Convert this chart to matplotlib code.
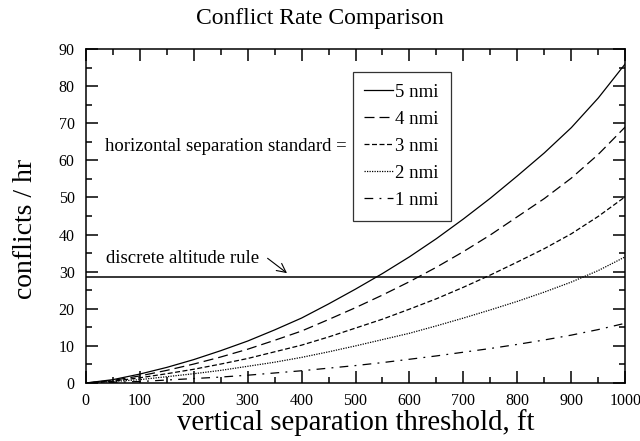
import matplotlib
matplotlib.use("Agg")
import matplotlib.pyplot as plt
from matplotlib.ticker import MultipleLocator

plt.rcParams['font.family'] = ['Liberation Serif', 'DejaVu Serif']

x_ft = [0, 50, 100, 150, 200, 250, 300, 350, 400, 450, 500,
        550, 600, 650, 700, 750, 800, 850, 900, 950, 1000]
nmi5 = [0, 0.9, 2.4, 4.2, 6.3, 8.7, 11.3, 14.3, 17.5, 21.3, 25.3,
        29.5, 34.0, 38.9, 44.2, 49.8, 55.8, 62.0, 68.8, 76.8, 86.0]
nmi4 = [0, 0.7, 1.9, 3.4, 5.1, 7.0, 9.1, 11.5, 14.0, 17.1, 20.3,
        23.7, 27.3, 31.2, 35.4, 39.9, 44.8, 49.7, 55.2, 61.6, 69.0]
nmi3 = [0, 0.5, 1.4, 2.5, 3.7, 5.1, 6.6, 8.4, 10.2, 12.4, 14.8,
        17.2, 19.9, 22.7, 25.8, 29.1, 32.6, 36.2, 40.2, 44.9, 50.2]
nmi2 = [0, 0.4, 0.9, 1.7, 2.5, 3.4, 4.5, 5.6, 6.9, 8.4, 10.0,
        11.7, 13.4, 15.4, 17.5, 19.7, 22.0, 24.5, 27.2, 30.3, 34.0]
nmi1 = [0, 0.2, 0.4, 0.8, 1.2, 1.6, 2.1, 2.7, 3.3, 4.0, 4.7,
        5.5, 6.4, 7.3, 8.3, 9.3, 10.4, 11.6, 12.9, 14.4, 16.1]
labels = ['5 nmi', '4 nmi', '3 nmi', '2 nmi', '1 nmi']
discrete_rule = 28.6

fig = plt.figure(figsize=(6.4, 4.41), dpi=100)
ax = fig.add_axes([0.134, 0.1315, 0.843, 0.7575])

styles = ['-', (0, (8, 4)), (0, (4, 2)), (0, (1, 1)), (0, (7, 5, 1.5, 5))]
for ys, lab, ls in zip([nmi5, nmi4, nmi3, nmi2, nmi1], labels, styles):
    ax.plot(x_ft, ys, color='black', lw=0.9, linestyle=ls, label=lab)

ax.axhline(discrete_rule, color='black', lw=1.1)

ax.set_xlim(0, 1000)
ax.set_ylim(0, 90)
ax.xaxis.set_major_locator(MultipleLocator(100))
ax.xaxis.set_minor_locator(MultipleLocator(50))
ax.yaxis.set_major_locator(MultipleLocator(10))
ax.yaxis.set_minor_locator(MultipleLocator(5))
ax.tick_params(which='both', direction='in', top=True, right=True,
               labelsize=11.5, width=1.1)
ax.tick_params(axis='x', which='both', pad=7)
ax.tick_params(axis='y', which='both', pad=8)
ax.tick_params(which='major', length=8.5)
ax.tick_params(which='minor', length=4)
for s in ax.spines.values():
    s.set_linewidth(1.1)

fig.text(0.5, 0.958, 'Conflict Rate Comparison', fontsize=17, ha='center', va='center')
ax.set_xlabel('vertical separation threshold, ft', fontsize=20.7, labelpad=0)
ax.set_ylabel('conflicts / hr', fontsize=20)
ax.yaxis.set_label_coords(-0.088, 0.46)

leg = ax.legend(loc='upper left', bbox_to_anchor=(0.495, 0.931), frameon=True,
                fancybox=False, edgecolor='black', fontsize=13.5,
                handlelength=1.5, handletextpad=0.15, labelspacing=0.53,
                borderpad=0.62, borderaxespad=0)
leg.get_frame().set_linewidth(0.9)

ax.text(36, 63.6, 'horizontal separation standard =', fontsize=13.5, va='center', ha='left')
ax.text(37, 33.6, 'discrete altitude rule', fontsize=13.5, va='center', ha='left')
ax.annotate('', xy=(373, 29.6), xytext=(337, 33.6),
            arrowprops=dict(arrowstyle='->', color='black', lw=0.8,
                            shrinkA=0, shrinkB=0, mutation_scale=16))

fig.savefig('out.png', dpi=100)
